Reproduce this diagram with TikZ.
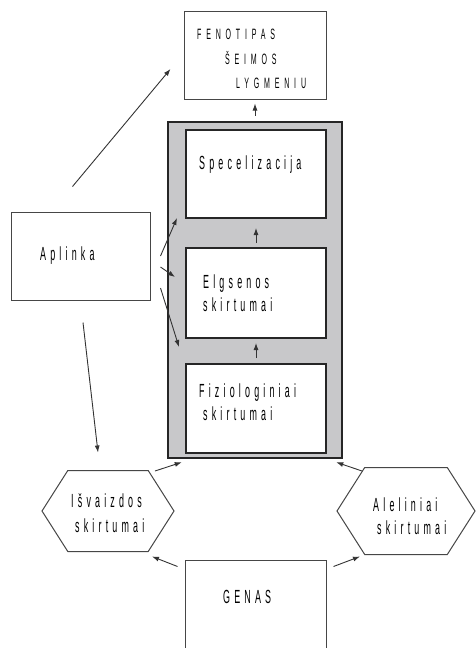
\documentclass[tikz,border=0pt]{standalone}
\usepackage{fontspec}
\setmainfont{Liberation Sans}[FakeStretch=0.47,LetterSpace=22]
\usetikzlibrary{arrows.meta,shapes.symbols}
\definecolor{panelgray}{RGB}{200,200,202}
\definecolor{edgegray}{RGB}{70,70,70}
\tikzset{
  box/.style={draw=edgegray, line width=1pt, fill=white, inner sep=0pt},
  innerbox/.style={draw=black!85, line width=2pt, fill=white, inner sep=0pt, minimum width=140, minimum height=88},
  hexbox/.style={draw=edgegray, line width=1pt, fill=white, signal, signal to=east and west, signal pointer angle=115, inner sep=0pt},
  lbl/.style={anchor=base west, inner sep=0pt, font=\fontsize{19}{21}\selectfont},
  smalllbl/.style={anchor=base west, inner sep=0pt, font=\fontsize{15}{17}\selectfont\addfontfeature{LetterSpace=32}},
  arr/.style={-{Latex[length=7pt,width=5pt]}, line width=0.9pt, draw=black!80},
}
\begin{document}
\begin{tikzpicture}[x=1pt,y=-1pt]
\useasboundingbox (0,0) rectangle (475,648);
\node[box, minimum width=142, minimum height=88] (fenotipas) at (255,55){};
\node[smalllbl] (fenotipasT1) at (197,39){FENOTIPAS};
\node[smalllbl] (fenotipasT2) at (225,64){ŠEIMOS};
\node[smalllbl] (fenotipasT3) at (236,88){LYGMENIU};
\node[draw=black!85, line width=2.5pt, fill=panelgray, minimum width=174, minimum height=336] (outer) at (255,290){};
\node[innerbox] (special) at (256,174){};
\node[innerbox, minimum height=90] (elgsena) at (256,293){};
\node[innerbox, minimum height=89] (fiziol) at (256,408.5){};
\node[lbl] (specialT) at (199,169){Specelizacija};
\node[lbl] (elgsenaT1) at (203,288){Elgsenos};
\node[lbl] (elgsenaT2) at (203,311){skirtumai};
\node[lbl] (fiziolT1) at (199,397){Fiziologiniai};
\node[lbl] (fiziolT2) at (203,420){skirtumai};
\node[box, minimum width=139, minimum height=88] (aplinka) at (80.5,256){};
\node[lbl] (aplinkaT) at (40,260){Aplinka};
\node[hexbox, minimum width=132, minimum height=81] (isvaizda) at (108,511){};
\node[lbl] (isvaizdaT1) at (71,507){Išvaizdos};
\node[lbl] (isvaizdaT2) at (75,532){skirtumai};
\node[hexbox, minimum width=138, minimum height=87] (alel) at (406,511){};
\node[lbl] (alelT1) at (373,511){Aleliniai};
\node[lbl] (alelT2) at (377,534){skirtumai};
\node[box, minimum width=141, minimum height=110] (genas) at (255.5,615){};
\node[lbl] (genasT) at (223,603){GENAS};
\draw[arr] ([shift={(-8,-25)}]aplinka.north) -- ([shift={(-13,14)}]fenotipas.west);
\draw[arr, shorten <=5pt, shorten >=4pt] (outer.north) -- (fenotipas.south);
\draw[arr, shorten <=4pt, shorten >=9pt] (elgsena.north) -- (special.south);
\draw[arr, shorten <=5pt, shorten >=4pt] (fiziol.north) -- (elgsena.south);
\draw[arr] ([xshift=10pt]aplinka.east) -- ([shift={(-8,-1)}]special.south west);
\draw[arr] ([shift={(10,11)}]aplinka.east) -- ([shift={(-10,-16)}]elgsena.west);
\draw[arr] ([shift={(10,32)}]aplinka.east) -- ([shift={(-6,-16)}]fiziol.north west);
\draw[arr] ([shift={(2.5,22)}]aplinka.south) -- ([shift={(-10,-17.5)}]isvaizda.north);
\draw[arr] ([shift={(47,1)}]isvaizda.north) -- ([shift={(15,3)}]outer.south west);
\draw[arr] ([shift={(-44,4)}]alel.north) -- ([shift={(-7,3)}]outer.south east);
\draw[arr] ([shift={(-7,7)}]genas.north west) -- ([shift={(44,4.5)}]isvaizda.south);
\draw[arr] ([shift={(7,7)}]genas.north east) -- ([shift={(-46,1.5)}]alel.south);
\end{tikzpicture}
\end{document}
